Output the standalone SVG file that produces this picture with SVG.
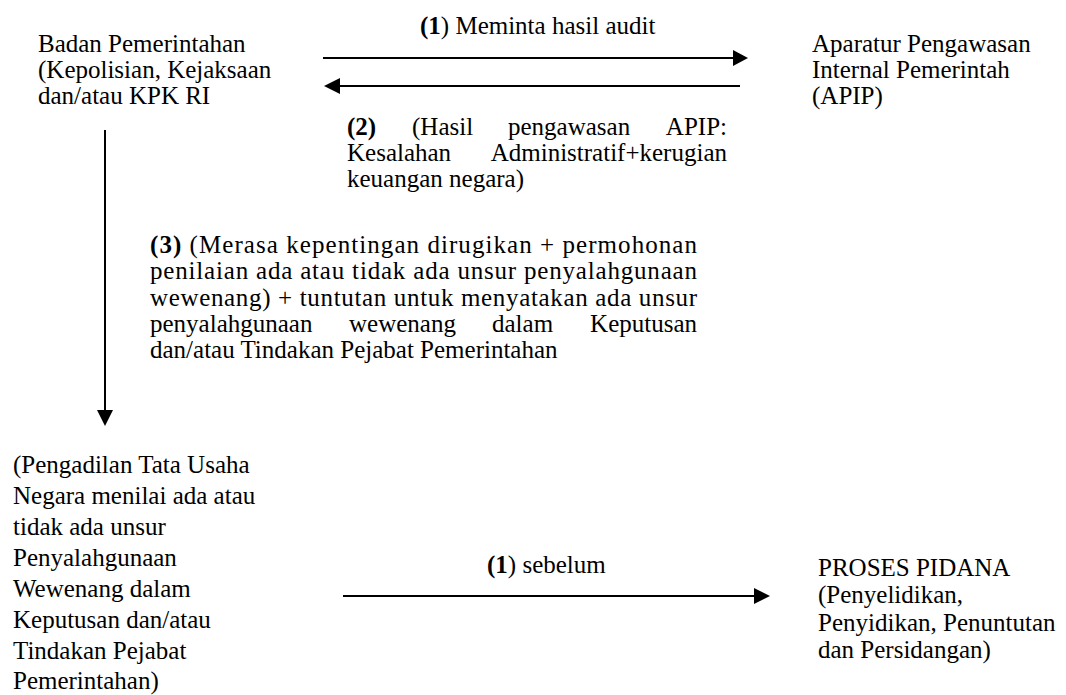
<svg xmlns="http://www.w3.org/2000/svg" width="1066" height="695" viewBox="0 0 1066 695">
<style>
text{font-family:"Liberation Serif","Times New Roman",serif;font-size:25px;fill:#000}
.b{font-weight:bold}
.ln{stroke:#000;stroke-width:2;fill:none}
.hd{fill:#000;stroke:none}
</style>
<rect width="1066" height="695" fill="#fff"/>
<g id="badan-pemerintahan">
<text x="38" y="52">Badan Pemerintahan</text>
<text x="38" y="78">(Kepolisian, Kejaksaan</text>
<text x="38" y="104">dan/atau KPK RI</text>
</g>
<g id="apip">
<text x="812" y="52">Aparatur Pengawasan</text>
<text x="812" y="78">Internal Pemerintah</text>
<text x="812" y="104">(APIP)</text>
</g>
<g id="ptun">
<text x="13" y="473">(Pengadilan Tata Usaha</text>
<text x="13" y="504">Negara menilai ada atau</text>
<text x="13" y="535">tidak ada unsur</text>
<text x="13" y="566">Penyalahgunaan</text>
<text x="13" y="597">Wewenang dalam</text>
<text x="13" y="628">Keputusan dan/atau</text>
<text x="13" y="659">Tindakan Pejabat</text>
<text x="13" y="689">Pemerintahan)</text>
</g>
<g id="proses-pidana">
<text x="818" y="576">PROSES PIDANA</text>
<text x="818" y="603">(Penyelidikan,</text>
<text x="818" y="631">Penyidikan, Penuntutan</text>
<text x="818" y="658">dan Persidangan)</text>
</g>
<g id="connectors">
<line class="ln" x1="323" y1="58" x2="735" y2="58"/>
<polygon class="hd" points="748,58 733,50 733,66"/>
<line class="ln" x1="338" y1="86" x2="740" y2="86"/>
<polygon class="hd" points="324,86 340,78 340,94"/>
<line class="ln" x1="105" y1="130" x2="105" y2="412"/>
<polygon class="hd" points="105,426 97,410 113,410"/>
<line class="ln" x1="343" y1="596" x2="756" y2="596"/>
<polygon class="hd" points="770,596 754,588 754,604"/>
</g>
<g id="labels">
<text x="420" y="34"><tspan class="b">(1</tspan>) Meminta hasil audit</text>
<text class="b" x="347" y="135">(2)</text>
<text x="412" y="135">(Hasil</text>
<text x="508" y="135">pengawasan</text>
<text x="727" y="135" text-anchor="end">APIP:</text>
<text x="347" y="161">Kesalahan</text>
<text x="727" y="161" text-anchor="end">Administratif+kerugian</text>
<text x="347" y="187">keuangan negara)</text>
<text x="150" y="253" textLength="547" lengthAdjust="spacing"><tspan class="b">(3)</tspan> (Merasa kepentingan dirugikan + permohonan</text>
<text x="150" y="279" textLength="547" lengthAdjust="spacing">penilaian ada atau tidak ada unsur penyalahgunaan</text>
<text x="150" y="306" textLength="547" lengthAdjust="spacing">wewenang) + tuntutan untuk menyatakan ada unsur</text>
<text x="150" y="332">penyalahgunaan</text>
<text x="349" y="332">wewenang</text>
<text x="492" y="332">dalam</text>
<text x="697" y="332" text-anchor="end">Keputusan</text>
<text x="150" y="358">dan/atau Tindakan Pejabat Pemerintahan</text>
<text x="487" y="573"><tspan class="b">(1</tspan>) sebelum</text>
</g>
</svg>
